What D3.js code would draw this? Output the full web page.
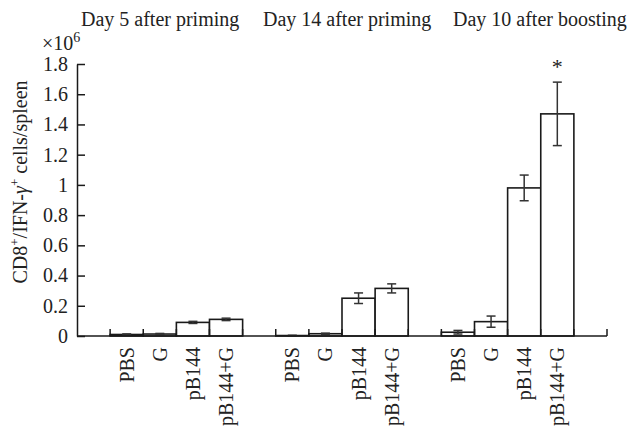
<!DOCTYPE html>
<html>
<head>
<meta charset="utf-8">
<script src="https://cdn.jsdelivr.net/npm/d3@7"></script>
<style>
  body { margin: 0; background: #fff; }
  text { font-family: "Liberation Serif", "Times New Roman", serif; fill: #222; }
</style>
</head>
<body>
<svg id="chart"></svg>
<script>
// data (x 10^6 cells)
var groups = ["Day 5 after priming", "Day 14 after priming", "Day 10 after boosting"];
var treatments = ["PBS", "G", "pB144", "pB144+G"];
var day5Mean = [0.010, 0.013, 0.090, 0.110];
var day5Err = [0.004, 0.004, 0.007, 0.008];
var day14Mean = [0.003, 0.015, 0.250, 0.315];
var day14Err = [0.002, 0.004, 0.035, 0.030];
var boostMean = [0.025, 0.095, 0.980, 1.470];
var boostErr = [0.012, 0.037, 0.085, 0.210];
var yTicks = [0, 0.2, 0.4, 0.6, 0.8, 1, 1.2, 1.4, 1.6, 1.8];

var settings = { width: 634, height: 429, left: 77, right: 607, top: 64, bottom: 336 };

var svg = d3.select("#chart")
    .attr("width", settings.width)
    .attr("height", settings.height);

// one slot per bar, plus an empty slot before, between and after the groups
var means = [day5Mean, day14Mean, boostMean];
var errs = [day5Err, day14Err, boostErr];
var bars = [];
groups.forEach(function(g, gi) {
    treatments.forEach(function(t, ti) {
        bars.push({ group: g, name: t, slot: gi * 5 + ti + 1, value: means[gi][ti], err: errs[gi][ti] });
    });
});

var x = d3.scaleBand()
    .domain(d3.range(16))
    .range([settings.left, settings.right])
    .padding(0);

var y = d3.scaleLinear()
    .domain([0, 1.8])
    .range([settings.bottom, settings.top]);

// bars
svg.append("g")
    .selectAll("rect")
    .data(bars)
    .join("rect")
    .attr("x", d => x(d.slot))
    .attr("y", d => y(d.value))
    .attr("width", x.bandwidth())
    .attr("height", d => y(0) - y(d.value))
    .attr("fill", "#fff")
    .attr("stroke", "#1a1a1a")
    .attr("stroke-width", 1.6);

// error bars
var eb = svg.append("g")
    .attr("stroke", "#333")
    .attr("stroke-width", 1.5)
    .selectAll("g")
    .data(bars)
    .join("g")
    .attr("transform", d => "translate(" + (x(d.slot) + x.bandwidth() / 2) + ",0)");
eb.append("line")
    .attr("y1", d => y(d.value + d.err))
    .attr("y2", d => y(d.value - d.err));
eb.append("line")
    .attr("x1", -4.5).attr("x2", 4.5)
    .attr("y1", d => y(d.value + d.err))
    .attr("y2", d => y(d.value + d.err));
eb.append("line")
    .attr("x1", -4.5).attr("x2", 4.5)
    .attr("y1", d => y(d.value - d.err))
    .attr("y2", d => y(d.value - d.err));

// y axis, ticks pointing inward
var yAxis = svg.append("g")
    .attr("transform", "translate(" + settings.left + ",0)")
    .call(d3.axisLeft(y)
        .tickValues(yTicks)
        .tickFormat(d3.format("~g"))
        .tickSizeInner(-8)
        .tickSizeOuter(0)
        .tickPadding(9));
yAxis.select(".domain").attr("stroke", "#1a1a1a").attr("stroke-width", 1.5);
yAxis.selectAll(".tick line").attr("stroke", "#1a1a1a").attr("stroke-width", 1.5);
yAxis.selectAll(".tick text")
    .attr("font-family", "Liberation Serif")
    .attr("font-size", 20)
    .attr("fill", "#222");

// x axis line with small ticks at every slot boundary
var bounds = x.domain().map(d => x(d)).concat([settings.right]);
var xAxis = svg.append("g").attr("stroke", "#1a1a1a").attr("stroke-width", 1.5);
xAxis.append("line")
    .attr("x1", settings.left).attr("x2", settings.right)
    .attr("y1", y(0)).attr("y2", y(0));
xAxis.selectAll(".xtick")
    .data(bounds.slice(1))
    .join("line")
    .attr("class", "xtick")
    .attr("x1", d => d).attr("x2", d => d)
    .attr("y1", y(0)).attr("y2", y(0) - 7);

// category labels, rotated
svg.append("g")
    .selectAll("text")
    .data(bars)
    .join("text")
    .attr("transform", d => "translate(" + (x(d.slot) + x.bandwidth() / 2 + 7) + "," + (y(0) + 11) + ") rotate(-90)")
    .attr("text-anchor", "end")
    .attr("font-size", 20)
    .text(d => d.name);

// group titles along the top
var titleX = [81, 263, 453];
svg.append("g")
    .selectAll("text")
    .data(groups)
    .join("text")
    .attr("x", (d, i) => titleX[i])
    .attr("y", 26)
    .attr("font-size", 20)
    .text(d => d);

// multiplier
var mult = svg.append("text")
    .attr("x", 42)
    .attr("y", 50)
    .attr("font-size", 20);
mult.append("tspan").text("\u00d710");
mult.append("tspan").attr("font-size", 14).attr("dy", -8).text("6");

// y axis title
var yt = svg.append("text")
    .attr("transform", "translate(27,182) rotate(-90)")
    .attr("text-anchor", "middle")
    .attr("font-size", 20);
yt.append("tspan").text("CD8");
yt.append("tspan").attr("font-size", 13).attr("dy", -8).text("+");
yt.append("tspan").attr("dy", 8).text("/IFN-");
yt.append("tspan").attr("font-style", "italic").text("\u03b3");
yt.append("tspan").attr("font-size", 13).attr("dy", -8).text("+");
yt.append("tspan").attr("dy", 8).text(" cells/spleen");

// significance star over the last bar
var last = bars[bars.length - 1];
svg.append("text")
    .attr("x", x(last.slot) + x.bandwidth() / 2)
    .attr("y", y(last.value + last.err) - 8)
    .attr("text-anchor", "middle")
    .attr("font-size", 22)
    .text("*");
</script>
</body>
</html>
